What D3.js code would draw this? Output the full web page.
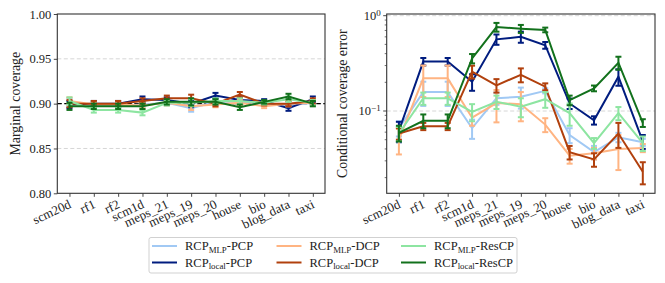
<!DOCTYPE html>
<html>
<head>
<meta charset="utf-8">
<script src="https://cdn.jsdelivr.net/npm/d3@7"></script>
<style>
  body { margin: 0; background: #fff; }
  text { font-family: "Liberation Serif", "DejaVu Serif", serif; fill: #222; }
</style>
</head>
<body>
<div id="chart"></div>
<script>
// datasets on the x axis
const datasets = ["scm20d", "rf1", "rf2", "scm1d", "meps_21", "meps_19", "meps_20", "house", "bio", "blog_data", "taxi"];

// marginal coverage (left panel)
const covMlpPcp    = [0.902, 0.898, 0.898, 0.899, 0.901, 0.895, 0.902, 0.902, 0.900, 0.898, 0.901];
const covLocalPcp  = [0.899, 0.900, 0.900, 0.905, 0.904, 0.900, 0.909, 0.904, 0.903, 0.895, 0.905];
const covMlpDcp    = [0.903, 0.899, 0.899, 0.898, 0.901, 0.897, 0.899, 0.901, 0.897, 0.900, 0.901];
const covLocalDcp  = [0.900, 0.900, 0.900, 0.903, 0.906, 0.906, 0.900, 0.910, 0.900, 0.900, 0.903];
const covMlpRes    = [0.903, 0.893, 0.893, 0.890, 0.901, 0.901, 0.903, 0.903, 0.901, 0.905, 0.901];
const covLocalRes  = [0.897, 0.897, 0.897, 0.897, 0.902, 0.902, 0.902, 0.896, 0.902, 0.908, 0.900];
const covErr       = [0.004, 0.003, 0.003, 0.003, 0.003, 0.004, 0.003, 0.003, 0.002, 0.003, 0.003];

// conditional coverage error (right panel)
const ccMlpPcp     = [0.066, 0.158, 0.158, 0.066, 0.136, 0.141, 0.163, 0.056, 0.037, 0.053, 0.047];
const ccLocalPcp   = [0.062, 0.330, 0.330, 0.203, 0.565, 0.600, 0.490, 0.120, 0.080, 0.229, 0.048];
const ccMlpDcp     = [0.050, 0.220, 0.220, 0.085, 0.121, 0.118, 0.072, 0.034, 0.036, 0.040, 0.041];
const ccLocalDcp   = [0.058, 0.069, 0.069, 0.259, 0.186, 0.240, 0.180, 0.037, 0.031, 0.058, 0.023];
const ccMlpRes     = [0.058, 0.136, 0.136, 0.098, 0.125, 0.111, 0.133, 0.095, 0.046, 0.095, 0.046];
const ccLocalRes   = [0.059, 0.079, 0.079, 0.356, 0.760, 0.730, 0.710, 0.130, 0.173, 0.321, 0.075];

const ccErrMlpPcp   = [0.012, 0.045, 0.045, 0.015, 0.020, 0.035, 0.010, 0.010, 0.006, 0.006, 0.004];
const ccErrLocalPcp = [0.015, 0.030, 0.030, 0.040, 0.070, 0.080, 0.040, 0.015, 0.008, 0.045, 0.008];
const ccErrMlpDcp   = [0.015, 0.080, 0.080, 0.015, 0.045, 0.040, 0.012, 0.006, 0.005, 0.016, 0.004];
const ccErrLocalDcp = [0.008, 0.006, 0.006, 0.040, 0.030, 0.040, 0.015, 0.006, 0.005, 0.017, 0.006];
const ccErrMlpRes   = [0.010, 0.020, 0.020, 0.020, 0.020, 0.025, 0.025, 0.025, 0.006, 0.015, 0.008];
const ccErrLocalRes = [0.011, 0.013, 0.013, 0.040, 0.080, 0.070, 0.040, 0.015, 0.012, 0.050, 0.007];

const yTicksLeft = [0.80, 0.85, 0.90, 0.95, 1.00];

// plotting order (also legend column order)
const series = [
  { sub: "MLP",   method: "PCP",   color: "#a1c9f4", cov: covMlpPcp,   cc: ccMlpPcp,   ccErr: ccErrMlpPcp },
  { sub: "local", method: "PCP",   color: "#001c7f", cov: covLocalPcp, cc: ccLocalPcp, ccErr: ccErrLocalPcp },
  { sub: "MLP",   method: "DCP",   color: "#ffb482", cov: covMlpDcp,   cc: ccMlpDcp,   ccErr: ccErrMlpDcp },
  { sub: "local", method: "DCP",   color: "#b1400d", cov: covLocalDcp, cc: ccLocalDcp, ccErr: ccErrLocalDcp },
  { sub: "MLP",   method: "ResCP", color: "#8de5a1", cov: covMlpRes,   cc: ccMlpRes,   ccErr: ccErrMlpRes },
  { sub: "local", method: "ResCP", color: "#12711c", cov: covLocalRes, cc: ccLocalRes, ccErr: ccErrLocalRes }
];

const W = 665, H = 283;
const plotTop = 14, plotBottom = 193.3;

const svg = d3.select("#chart").append("svg")
  .attr("width", W).attr("height", H);

function panel(x0, x1, y, getVals, getErr) {
  const x = d3.scalePoint().domain(datasets).range([x0, x1]).padding(0.5);
  const g = svg.append("g");

  series.forEach(s => {
    const vals = getVals(s), errs = getErr(s);
    const pts = datasets.map((d, i) => ({ x: x(d), v: vals[i], e: errs[i] }));
    const line = d3.line().x(p => p.x).y(p => y(p.v));
    g.append("path").datum(pts)
      .attr("d", line).attr("fill", "none")
      .attr("stroke", s.color).attr("stroke-width", 2);
    const eb = g.selectAll(null).data(pts).enter().append("g");
    eb.append("line")
      .attr("x1", p => p.x).attr("x2", p => p.x)
      .attr("y1", p => y(p.v + p.e)).attr("y2", p => y(Math.max(p.v - p.e, 1e-4)))
      .attr("stroke", s.color).attr("stroke-width", 2);
    [1, -1].forEach(sg => {
      eb.append("line")
        .attr("x1", p => p.x - 3).attr("x2", p => p.x + 3)
        .attr("y1", p => y(Math.max(p.v + sg * p.e, 1e-4)))
        .attr("y2", p => y(Math.max(p.v + sg * p.e, 1e-4)))
        .attr("stroke", s.color).attr("stroke-width", 2);
    });
  });

  // x axis
  const xa = svg.append("g").attr("transform", `translate(0,${plotBottom})`)
    .call(d3.axisBottom(x).tickSize(3.5).tickSizeOuter(0));
  xa.select(".domain").remove();
  xa.selectAll(".tick line").attr("stroke", "#333").attr("stroke-width", 0.9);
  xa.selectAll(".tick text")
    .attr("font-size", 13)
    .attr("text-anchor", "end")
    .attr("y", 0).attr("dy", 0)
    .attr("transform", "translate(2,14) rotate(-25)");

  // frame
  svg.append("rect")
    .attr("x", x0).attr("y", plotTop)
    .attr("width", x1 - x0).attr("height", plotBottom - plotTop)
    .attr("fill", "none").attr("stroke", "#333").attr("stroke-width", 1.1);
  return x;
}

// ---- left panel: marginal coverage
const yL = d3.scaleLinear().domain([0.8, 1.0]).range([plotBottom, plotTop]);
const gridL = svg.append("g");
gridL.selectAll("line").data(yTicksLeft.slice(1, -1)).enter().append("line")
  .attr("x1", 57.3).attr("x2", 325)
  .attr("y1", d => yL(d)).attr("y2", d => yL(d))
  .attr("stroke", "#ccc").attr("stroke-width", 0.8).attr("stroke-dasharray", "4,2.5");
svg.append("line")
  .attr("x1", 57.3).attr("x2", 325)
  .attr("y1", yL(0.9)).attr("y2", yL(0.9))
  .attr("stroke", "#000").attr("stroke-width", 1.2).attr("stroke-dasharray", "4.5,2.5");

panel(57.3, 325, yL, s => s.cov, () => covErr);

const ayL = svg.append("g").attr("transform", "translate(57.3,0)")
  .call(d3.axisLeft(yL).tickValues(yTicksLeft).tickFormat(d3.format(".2f")).tickSize(3.5).tickSizeOuter(0));
ayL.select(".domain").remove();
ayL.selectAll(".tick line").attr("stroke", "#333").attr("stroke-width", 0.9);
ayL.selectAll(".tick text").attr("font-size", 12.5).attr("x", -6);

svg.append("text")
  .attr("transform", `translate(15,${(plotTop + plotBottom) / 2}) rotate(-90)`)
  .attr("text-anchor", "middle").attr("dy", "0.35em").attr("font-size", 13.8)
  .text("Marginal coverage");

// ---- right panel: conditional coverage error
const yR = d3.scaleLog().domain([0.01369, 1.042]).range([plotBottom, plotTop]);
const gridR = svg.append("g");
gridR.selectAll("line").data([0.1, 1]).enter().append("line")
  .attr("x1", 386.7).attr("x2", 655)
  .attr("y1", d => yR(d)).attr("y2", d => yR(d))
  .attr("stroke", "#ccc").attr("stroke-width", 0.8).attr("stroke-dasharray", "4,2.5");

panel(386.7, 655, yR, s => s.cc, s => s.ccErr);

const minor = [];
[0.01, 0.1].forEach(b => d3.range(2, 10).forEach(k => {
  const v = b * k;
  if (v > 0.01369 && v < 1) minor.push(v);
}));
const ayR = svg.append("g").attr("transform", "translate(386.7,0)");
ayR.selectAll(".mn").data(minor).enter().append("line")
  .attr("x1", -2).attr("x2", 0)
  .attr("y1", d => yR(d)).attr("y2", d => yR(d))
  .attr("stroke", "#333").attr("stroke-width", 0.7);
const majR = ayR.selectAll(".mj").data([{ v: 1, e: "0" }, { v: 0.1, e: "\u22121" }]).enter().append("g")
  .attr("transform", d => `translate(0,${yR(d.v)})`);
majR.append("line").attr("x1", -3.5).attr("x2", 0)
  .attr("stroke", "#333").attr("stroke-width", 0.9);
const mt = majR.append("text").attr("x", -6).attr("dy", "0.32em")
  .attr("text-anchor", "end").attr("font-size", 12.5);
mt.append("tspan").text("10");
mt.append("tspan").attr("font-size", 9).attr("dy", "-0.45em").text(d => d.e);

svg.append("text")
  .attr("transform", `translate(342,${(plotTop + plotBottom) / 2}) rotate(-90)`)
  .attr("text-anchor", "middle").attr("dy", "0.35em").attr("font-size", 13.8)
  .text("Conditional coverage error");

// ---- legend
const leg = svg.append("g");
leg.append("rect")
  .attr("x", 149).attr("y", 237.5).attr("width", 368).attr("height", 35.5)
  .attr("rx", 2).attr("fill", "#fff").attr("stroke", "#ccc").attr("stroke-width", 0.9);
series.forEach((s, i) => {
  const col = Math.floor(i / 2), row = i % 2;
  const lx = 152 + col * 124.5, ly = 246 + row * 16.5;
  leg.append("line")
    .attr("x1", lx).attr("x2", lx + 25).attr("y1", ly).attr("y2", ly)
    .attr("stroke", s.color).attr("stroke-width", 2);
  const t = leg.append("text").attr("x", lx + 33).attr("y", ly).attr("dy", "0.35em")
    .attr("font-size", 12.5);
  t.append("tspan").text("RCP");
  t.append("tspan").attr("font-size", 8.8).attr("dy", 2.5).text(s.sub);
  t.append("tspan").attr("dy", -2.5).text("-" + s.method);
});
</script>
</body>
</html>
